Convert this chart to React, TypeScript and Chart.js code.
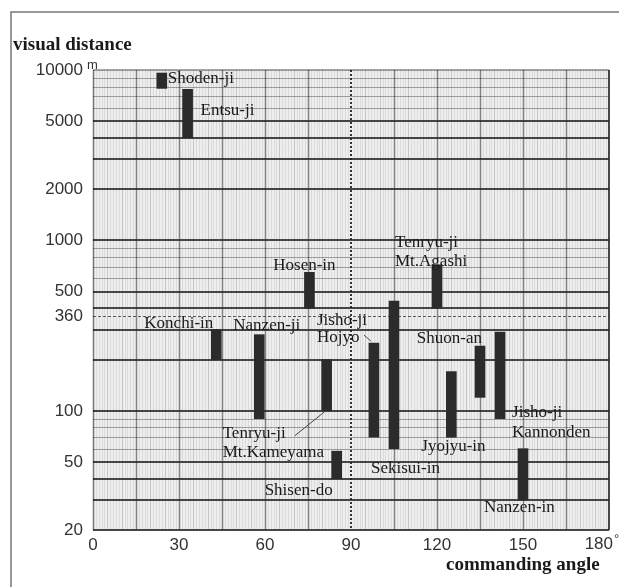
import React, { useEffect, useRef } from 'react';
import { Chart, registerables } from 'chart.js';

Chart.register(...registerables);

// ---- data ----
const temples = [
  'Shoden-ji',
  'Entsu-ji',
  'Konchi-in',
  'Nanzen-ji',
  'Hosen-in',
  'Tenryu-ji\nMt.Kameyama',
  'Shisen-do',
  'Jisho-ji\nHojyo',
  'Sekisui-in',
  'Tenryu-ji\nMt.Agashi',
  'Jyojyu-in',
  'Shuon-an',
  'Jisho-ji\nKannonden',
  'Nanzen-in',
];
const angles = [24, 33, 43, 58, 75.5, 81.5, 85, 98, 105, 120, 125, 135, 142, 150];
const distMin = [7800, 4000, 200, 90, 400, 100, 40, 70, 60, 400, 70, 120, 90, 30];
const distMax = [9600, 7700, 300, 280, 650, 200, 58, 250, 440, 720, 170, 240, 290, 60];

const yTickValues = [20, 50, 100, 360, 500, 1000, 2000, 5000, 10000];
const xTickValues = [0, 30, 60, 90, 120, 150, 180];
const yAxisTitle = 'visual distance';
const xAxisTitle = 'commanding angle';
const unitLabel = 'm';
const referenceAngle = 90;
const referenceDistance = 360;

// ---- label layout (pixel offsets from bar anchors) ----
type Lay = { anchor: 'top' | 'bottom'; dx: number; dy: number; align: CanvasTextAlign; lh?: number; lead?: number[] };
const labelLayout: Lay[] = [
  { anchor: 'top', dx: 6, dy: 6, align: 'left' },
  { anchor: 'top', dx: 13, dy: 21, align: 'left' },
  { anchor: 'top', dx: -3, dy: -6, align: 'right' },
  { anchor: 'top', dx: -26, dy: -9, align: 'left' },
  { anchor: 'top', dx: -5, dy: -7, align: 'center' },
  { anchor: 'bottom', dx: -104, dy: 23, align: 'left', lh: 19, lead: [-32, 25, -1, 0] },
  { anchor: 'bottom', dx: -4, dy: 12, align: 'right' },
  { anchor: 'top', dx: -57, dy: -23, align: 'left', lh: 17, lead: [-10, -8, -3, -2] },
  { anchor: 'bottom', dx: -23, dy: 20, align: 'left' },
  { anchor: 'top', dx: -42, dy: -22, align: 'left', lh: 19 },
  { anchor: 'bottom', dx: -30, dy: 9, align: 'left' },
  { anchor: 'top', dx: 2, dy: -8, align: 'right' },
  { anchor: 'bottom', dx: 12, dy: -6, align: 'left', lh: 20 },
  { anchor: 'bottom', dx: -39, dy: 8, align: 'left' },
];

const SERIF = '"Liberation Serif", "DejaVu Serif", serif';
const SANS = '"Liberation Sans", Arial, sans-serif';

const paperPlugin = {
  id: 'paper',
  beforeDatasetsDraw(chart: any) {
    const { ctx, chartArea: a, scales } = chart;
    const x = scales.x;
    const y = scales.y;
    const hline = (v: number, color: string, w: number, dash: number[] = []) => {
      const py = Math.round(y.getPixelForValue(v)) + (w % 2 ? 0.5 : 0);
      ctx.beginPath();
      ctx.setLineDash(dash);
      ctx.strokeStyle = color;
      ctx.lineWidth = w;
      ctx.moveTo(a.left, py);
      ctx.lineTo(a.right, py);
      ctx.stroke();
    };
    const vline = (d: number, color: string, w: number, dash: number[] = []) => {
      const px = Math.round(x.getPixelForValue(d)) + (w % 2 ? 0.5 : 0);
      ctx.beginPath();
      ctx.setLineDash(dash);
      ctx.strokeStyle = color;
      ctx.lineWidth = w;
      ctx.moveTo(px, a.top);
      ctx.lineTo(px, a.bottom);
      ctx.stroke();
    };
    ctx.save();
    ctx.fillStyle = '#eeeeee';
    ctx.fillRect(a.left, a.top, a.right - a.left, a.bottom - a.top);
    // fine vertical ruling
    for (let d = 1; d < 180; d++) {
      if (d % 15 === 0) continue;
      vline(d, d % 5 === 0 ? 'rgba(0,0,0,0.17)' : 'rgba(0,0,0,0.08)', 1);
    }
    // light horizontal lines 6..9
    for (let e = 1; e <= 3; e++) {
      for (let m = 6; m <= 9; m++) hline(m * Math.pow(10, e), 'rgba(0,0,0,0.33)', 1);
    }
    // 15 degree lines
    for (let d = 15; d < 180; d += 15) {
      if (d === referenceAngle) continue;
      vline(d, 'rgba(0,0,0,0.45)', 1.5);
    }
    // heavy horizontals 1..5
    for (let e = 1; e <= 3; e++) {
      for (let m = 1; m <= 5; m++) {
        const v = m * Math.pow(10, e);
        if (v <= 20 || v >= 10000) continue;
        hline(v, 'rgba(40,40,40,0.85)', 2);
      }
    }
    hline(referenceDistance, 'rgba(40,40,40,0.75)', 1, [3, 2]);
    vline(referenceAngle, 'rgba(30,30,30,0.9)', 2, [2, 2]);
    // borders
    ctx.setLineDash([]);
    hline(10000, 'rgba(0,0,0,0.35)', 2);
    hline(20, 'rgba(40,40,40,0.85)', 2);
    vline(0, 'rgba(0,0,0,0.5)', 1.5);
    vline(180, 'rgba(40,40,40,0.85)', 2);
    ctx.restore();
  },
  afterDraw(chart: any) {
    const { ctx, chartArea: a, scales } = chart;
    const x = scales.x;
    const meta = chart.getDatasetMeta(0);
    ctx.save();
    // outer frame
    ctx.strokeStyle = '#777';
    ctx.lineWidth = 1.5;
    ctx.beginPath();
    ctx.moveTo(11, 587);
    ctx.lineTo(11, 12);
    ctx.lineTo(619, 12);
    ctx.stroke();

    // temple labels
    ctx.fillStyle = '#1a1a1a';
    ctx.strokeStyle = '#444';
    ctx.lineWidth = 1;
    ctx.font = `17px ${SERIF}`;
    ctx.textBaseline = 'middle';
    meta.data.forEach((el: any, i: number) => {
      const lay = labelLayout[i];
      if (!lay) return;
      const top = Math.min(el.y, el.base);
      const bottom = Math.max(el.y, el.base);
      const ax = el.x;
      const ay = lay.anchor === 'top' ? top : bottom;
      const lines = temples[i].split('\n');
      ctx.textAlign = lay.align;
      lines.forEach((t, k) => {
        ctx.fillText(t, ax + lay.dx, ay + lay.dy + k * (lay.lh || 19));
      });
      if (lay.lead) {
        ctx.beginPath();
        ctx.moveTo(ax + lay.lead[0], ay + lay.lead[1]);
        ctx.lineTo(ax + lay.lead[2], ay + lay.lead[3]);
        ctx.stroke();
      }
    });

    // axis titles
    ctx.fillStyle = '#1a1a1a';
    ctx.font = `bold 19px ${SERIF}`;
    ctx.textAlign = 'left';
    ctx.fillText(yAxisTitle, 13, 45);
    ctx.fillText(xAxisTitle, 446, 565);

    // last x tick with degree sign (shifted, as in the original)
    const last = xTickValues[xTickValues.length - 1];
    ctx.font = `17px ${SANS}`;
    ctx.fillStyle = '#333';
    ctx.textAlign = 'right';
    const lx = x.getPixelForValue(last) + 4;
    ctx.fillText(String(last), lx, a.bottom + 14);
    ctx.font = `13px ${SANS}`;
    ctx.textAlign = 'left';
    ctx.fillText('°', lx + 1, a.bottom + 9);

    // unit superscript
    ctx.font = `13px ${SANS}`;
    ctx.fillText(unitLabel, a.left - 6, a.top - 5);
    ctx.restore();
  },
};

export default function App() {
  const ref = useRef<HTMLCanvasElement | null>(null);
  useEffect(() => {
    if (!ref.current) return;
    const chart = new Chart(ref.current, {
      type: 'bar',
      data: {
        datasets: [
          {
            data: angles.map((a, i) => ({ x: a, y: [distMin[i], distMax[i]] })) as any,
            backgroundColor: '#2b2b2b',
            borderWidth: 0,
            borderSkipped: false,
            barThickness: 10,
          },
        ],
      },
      options: {
        animation: false,
        responsive: false,
        devicePixelRatio: 1,
        layout: { padding: { top: 70, right: 10, left: 0, bottom: 0 } },
        plugins: { legend: { display: false }, tooltip: { enabled: false } },
        scales: {
          x: {
            type: 'linear',
            min: 0,
            max: 180,
            offset: false,
            grid: { display: false, drawTicks: false, offset: false },
            border: { display: false },
            afterBuildTicks: (s: any) => {
              s.ticks = xTickValues.filter((v) => v < 180).map((v) => ({ value: v }));
            },
            afterFit: (s: any) => {
              s.height = 57;
            },
            ticks: {
              autoSkip: false,
              maxRotation: 0,
              padding: 5,
              color: '#333',
              font: { family: SANS, size: 17 },
              callback: (v: any) => String(v),
            },
          },
          y: {
            type: 'logarithmic',
            min: 20,
            max: 10000,
            grid: { display: false, drawTicks: false },
            border: { display: false },
            afterBuildTicks: (s: any) => {
              s.ticks = yTickValues.map((v) => ({ value: v }));
            },
            afterFit: (s: any) => {
              s.width = 93;
            },
            ticks: {
              autoSkip: false,
              padding: 10,
              color: '#333',
              font: { family: SANS, size: 17 },
              callback: (v: any) => String(v),
            },
          },
        },
      } as any,
      plugins: [paperPlugin],
    });
    return () => chart.destroy();
  }, []);
  return (
    <div style={{ position: 'fixed', left: 0, top: 0, width: 619, height: 587, background: '#fff' }}>
      <canvas ref={ref} width={619} height={587} style={{ width: 619, height: 587, display: 'block' }} />
    </div>
  );
}
